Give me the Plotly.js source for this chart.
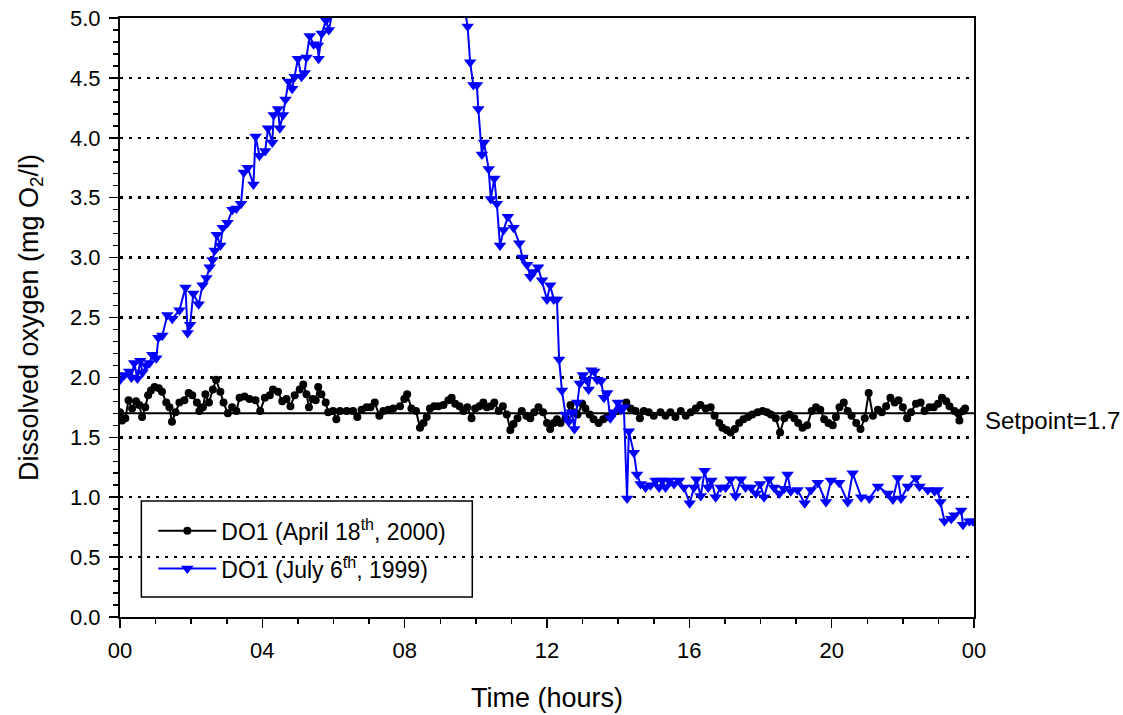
<!DOCTYPE html>
<html>
<head>
<meta charset="utf-8">
<script src="https://cdn.plot.ly/plotly-3.0.1.min.js"></script>
<style>html,body{margin:0;padding:0;background:#fff;}#chart{width:1123px;height:715px;}</style>
</head>
<body>
<div id="chart"></div>
<script>
// Time (hours) and dissolved oxygen (mg O2/l), April 18th 2000
const aprilHours = [0,0.06,0.15,0.24,0.34,0.45,0.54,0.62,0.71,0.79,0.87,0.97,1.09,1.18,1.3,1.39,1.46,1.56,1.67,1.81,1.93,2.03,2.16,2.23,2.33,2.4,2.5,2.61,2.7,2.82,2.91,3.03,3.15,3.27,3.36,3.5,3.64,3.81,3.94,4.07,4.21,4.3,4.44,4.56,4.68,4.79,4.91,5.05,5.15,5.24,5.31,5.41,5.5,5.57,5.66,5.78,5.85,5.99,6.08,6.18,6.37,6.55,6.67,6.79,6.93,7.04,7.16,7.29,7.4,7.54,7.68,
  7.87,7.99,8.07,8.19,8.32,8.43,8.53,8.62,8.71,8.83,8.95,9.09,9.23,9.32,9.42,9.54,9.65,9.76,9.88,9.98,10.1,10.21,10.31,10.42,10.52,10.64,10.76,10.87,10.97,11.06,11.17,11.29,11.42,11.53,11.64,11.76,11.89,12.0,12.09,12.19,12.28,12.38,12.52,12.66,12.75,12.86,12.99,13.08,13.2,13.31,13.45,13.58,13.69,13.83,13.97,14.08,14.23,14.35,14.49,14.61,14.72,14.86,15.0,
  15.19,15.33,15.47,15.61,15.76,15.9,16.04,16.18,16.31,16.46,16.6,16.71,16.84,16.93,17.05,17.16,17.28,17.4,17.52,17.65,17.77,17.92,18.06,18.18,18.29,18.43,18.55,18.67,18.81,18.95,19.06,19.18,19.31,19.44,19.56,19.68,19.79,19.91,20.03,20.12,20.22,20.34,20.45,20.56,20.69,20.81,20.93,21.04,21.16,21.3,21.41,21.53,21.65,21.77,21.88,22.0,22.12,22.23,22.37,22.5,22.61,22.75,22.87,22.99,23.1,23.22,23.31,23.45,23.55,23.59,23.69,23.75];
const aprilDO = [1.71,1.64,1.66,1.81,1.74,1.8,1.77,1.67,1.75,1.85,1.89,1.92,1.91,1.88,1.79,1.75,1.63,1.71,1.79,1.81,1.87,1.85,1.79,1.72,1.75,1.86,1.79,1.9,1.98,1.88,1.79,1.7,1.75,1.72,1.83,1.84,1.82,1.81,1.72,1.83,1.85,1.9,1.88,1.8,1.82,1.76,1.85,1.9,1.94,1.86,1.75,1.82,1.81,1.92,1.86,1.79,1.71,1.72,1.65,1.72,1.72,1.72,1.67,1.73,1.75,1.75,1.79,1.68,1.72,1.73,1.74,
  1.76,1.82,1.86,1.74,1.72,1.58,1.62,1.67,1.74,1.76,1.76,1.77,1.81,1.83,1.78,1.76,1.72,1.75,1.66,1.74,1.76,1.79,1.75,1.76,1.79,1.72,1.76,1.69,1.56,1.61,1.66,1.72,1.68,1.66,1.71,1.75,1.71,1.62,1.57,1.62,1.65,1.62,1.66,1.77,1.71,1.69,1.78,1.74,1.69,1.65,1.62,1.65,1.67,1.69,1.72,1.74,1.79,1.74,1.72,1.66,1.72,1.71,1.68,
  1.71,1.68,1.71,1.67,1.72,1.68,1.71,1.74,1.77,1.74,1.75,1.68,1.62,1.58,1.56,1.54,1.57,1.62,1.65,1.67,1.69,1.71,1.72,1.71,1.69,1.66,1.54,1.66,1.69,1.66,1.62,1.58,1.6,1.72,1.75,1.73,1.65,1.62,1.6,1.67,1.75,1.79,1.72,1.68,1.62,1.57,1.66,1.87,1.68,1.73,1.71,1.76,1.83,1.79,1.81,1.75,1.66,1.71,1.78,1.79,1.72,1.75,1.75,1.78,1.83,1.8,1.76,1.72,1.7,1.64,1.72,1.74];

// Time (hours) and dissolved oxygen (mg O2/l), July 6th 1999
const julyHours = [0,0.12,0.26,0.32,0.4,0.49,0.57,0.63,0.74,0.83,0.91,1.02,1.08,1.19,1.33,1.47,1.67,1.84,1.9,1.97,2.06,2.21,2.32,2.43,2.52,2.6,2.66,2.72,2.82,2.89,3.02,3.16,3.27,3.4,3.48,3.59,3.75,3.81,3.92,4.08,4.16,4.28,4.32,4.44,4.49,4.58,4.65,4.74,4.84,4.91,5.0,5.1,5.19,5.24,5.33,5.44,5.56,5.58,5.67,5.79,5.87,
  6.0,6.5,7.5,8.5,9.4,9.7,
  9.77,9.84,9.93,10.03,10.07,10.17,10.23,10.36,10.42,10.52,10.59,10.68,10.78,10.9,11.06,11.22,11.31,11.44,11.53,11.62,11.75,11.86,12.0,12.09,12.19,12.28,12.34,12.42,12.52,12.61,12.7,12.77,12.85,12.92,13.01,13.11,13.17,13.25,13.33,13.41,13.52,13.6,13.69,13.78,13.88,13.99,14.08,14.16,14.25,14.3,14.44,14.53,14.63,
  14.77,14.91,15.05,15.15,15.24,15.33,15.43,15.57,15.71,15.85,16.01,16.13,16.2,16.32,16.43,16.53,16.62,16.74,16.88,17.02,17.16,17.3,17.45,17.58,17.73,17.87,17.99,18.1,18.24,18.38,18.53,
  18.66,18.76,18.85,19.04,19.24,19.42,19.61,19.84,19.98,20.21,20.45,20.59,20.83,21.06,21.3,21.58,21.72,21.86,21.95,22.14,22.37,22.47,22.7,22.89,22.98,23.06,23.17,23.36,23.45,23.64,23.69,23.87,23.97];
const julyDO = [1.98,2.02,2.05,2.0,2.12,1.99,2.14,2.04,2.1,2.12,2.19,2.16,2.33,2.35,2.52,2.49,2.56,2.75,2.37,2.44,2.7,2.61,2.77,2.83,2.92,2.98,3.06,3.19,3.1,3.25,3.29,3.4,3.41,3.45,3.71,3.75,3.61,4.01,3.85,3.89,4.08,3.96,4.19,4.24,4.08,4.19,4.32,4.47,4.41,4.51,4.66,4.51,4.54,4.67,4.85,4.78,4.77,4.66,4.87,4.98,4.9,
  5.1,5.5,5.9,5.8,5.4,5.05,
  4.93,4.63,4.44,4.44,4.24,3.86,3.96,3.74,3.49,3.66,3.45,3.1,3.23,3.34,3.25,3.12,3.0,2.94,2.84,2.88,2.92,2.81,2.65,2.77,2.65,2.65,2.15,1.89,1.69,1.63,1.71,1.57,1.79,1.95,2.02,1.98,1.9,2.06,2.05,1.98,1.97,1.83,1.87,1.66,1.71,1.79,1.73,1.75,0.99,1.55,1.37,1.19,1.11,
  1.08,1.1,1.14,1.08,1.14,1.08,1.14,1.11,1.14,1.08,0.95,1.08,1.15,1.01,1.22,1.08,1.14,1.0,1.08,1.08,1.15,1.01,1.15,1.08,1.08,1.03,1.11,1.0,1.15,1.08,1.03,
  1.07,1.19,1.05,1.06,0.95,1.06,1.12,0.96,1.14,1.12,0.96,1.2,1.0,0.99,1.09,1.03,0.98,1.16,0.99,1.09,1.16,1.09,1.06,1.05,1.06,0.96,0.8,0.82,0.85,0.89,0.77,0.8,0.8];

const setpoint = 1.7;
const xTickVals = [0,4,8,12,16,20,24];
const xTickText = ["00","04","08","12","16","20","00"];
const seriesNames = ["DO1 (April 18<sup>th</sup>, 2000)", "DO1 (July 6<sup>th</sup>, 1999)"];

const FONT = "Liberation Sans, Arial, sans-serif";

const traces = [
  {
    x: aprilHours, y: aprilDO, name: seriesNames[0], type: "scatter", mode: "lines+markers",
    line: {color: "#000000", width: 2},
    marker: {symbol: "circle", size: 8, color: "#000000"},
    legendgroup: "a"
  },
  {
    x: julyHours, y: julyDO, name: seriesNames[1], type: "scatter", mode: "lines+markers",
    line: {color: "#0000ff", width: 2},
    marker: {symbol: "triangle-down", size: 11, color: "#0000ff"},
    legendgroup: "b"
  }
];

const layout = {
  width: 1123, height: 715,
  margin: {l: 120, r: 149, t: 18, b: 98},
  paper_bgcolor: "#fff", plot_bgcolor: "#fff",
  font: {family: FONT, size: 22, color: "#000"},
  showlegend: true,
  legend: {
    x: 0.039, y: 0.18, xanchor: "left", yanchor: "top",
    bgcolor: "rgba(0,0,0,0)", borderwidth: 0,
    font: {family: FONT, size: 23, color: "#000"},
    traceorder: "grouped", tracegroupgap: 5,
    itemwidth: 58
  },
  xaxis: {
    range: [0, 24], tickvals: xTickVals, ticktext: xTickText,
    showgrid: false, zeroline: false,
    showline: true, linecolor: "#000", linewidth: 2, mirror: true,
    ticks: "outside", ticklen: 9, tickwidth: 1.5, tickcolor: "#000",
    minor: {dtick: 1, tick0: 0, ticks: "outside", ticklen: 5, tickwidth: 1.5, tickcolor: "#000", showgrid: false},
    tickfont: {family: FONT, size: 22}, ticklabelstandoff: 4,
    title: {text: "Time (hours)", font: {family: FONT, size: 27}, standoff: 26}
  },
  yaxis: {
    range: [0, 5], dtick: 0.5, tick0: 0, tickformat: ".1f",
    showgrid: true, gridcolor: "#000", gridwidth: 2.5, griddash: "3px,6px",
    zeroline: false,
    showline: true, linecolor: "#000", linewidth: 2, mirror: true,
    ticks: "outside", ticklen: 9, tickwidth: 1.5, tickcolor: "#000",
    minor: {dtick: 0.1, tick0: 0, ticks: "outside", ticklen: 5, tickwidth: 1.5, tickcolor: "#000", showgrid: false},
    tickfont: {family: FONT, size: 22}, ticklabelstandoff: 4,
    title: {text: "Dissolved oxygen (mg O<sub>2</sub>/l)", font: {family: FONT, size: 27}, standoff: 24}
  },
  shapes: [
    {type: "line", xref: "paper", x0: 0, x1: 1, yref: "y", y0: setpoint, y1: setpoint,
     line: {color: "#000", width: 2}, layer: "below"},
    // legend frame (white fill hides grid lines behind the legend)
    {type: "rect", xref: "x", yref: "y", x0: 0.6, x1: 9.9, y0: 0.167, y1: 0.968,
     fillcolor: "#fff", line: {color: "#000", width: 1.5}, layer: "below"}
  ],
  annotations: [
    {xref: "paper", x: 1.01, xanchor: "left", yref: "y", y: 1.64, yanchor: "middle",
     text: "Setpoint=" + setpoint, showarrow: false, font: {family: FONT, size: 24, color: "#000"}}
  ]
};

Plotly.newPlot("chart", traces, layout, {staticPlot: true, displayModeBar: false});
</script>
</body>
</html>
